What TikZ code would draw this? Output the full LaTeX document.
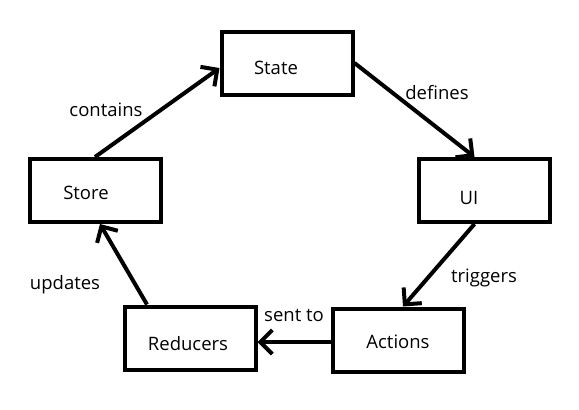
\documentclass[tikz,border=0pt]{standalone}
\usepackage{fontspec}
\setmainfont{Open Sans}
\usetikzlibrary{arrows.meta}

\tikzset{
  box/.style={draw, line width=4pt, minimum width=131pt, minimum height=63pt, inner sep=0pt},
  txt/.style={inner sep=0pt, font=\fontsize{18.5}{22}\selectfont},
  flow/.style={line width=4pt, -{Straight Barb[length=12pt, width=24pt, line width=4pt]}}
}

\begin{document}
\begin{tikzpicture}[x=1pt, y=-1pt]
\useasboundingbox (0,0) rectangle (579,410);
% Cajas
\node[box] (state) at (287,63) {};
\node[box] (ui) at (484.5,190.5) {};
\node[box] (actions) at (398,340) {};
\node[box] (reducers) at (190,338) {};
\node[box] (store) at (95,190.5) {};
% Texto dentro de las cajas
\node[txt] (statetxt) at (276,68) {State};
\node[txt] (uitxt) at (469,198) {UI};
\node[txt] (actionstxt) at (398,342) {Actions};
\node[txt] (reducerstxt) at (188,344) {Reducers};
\node[txt] (storetxt) at (86,193) {Store};
% Flechas del ciclo
\draw[flow] (store.north) -- ([yshift=-5pt]state.west);
\draw[flow] (state.east) -- ([xshift=-10pt]ui.north);
\draw[flow] ([xshift=-10pt]ui.south) -- ([xshift=5pt]actions.north);
\draw[flow] ([yshift=-2pt]actions.west) -- ([yshift=-2pt]actions.west -| reducers.east);
\draw[flow] ([xshift=-43pt]reducers.north) -- ([xshift=5pt]store.south);
% Etiquetas
\node[txt] (contains) at (106,110) {contains};
\node[txt] (defines) at (437,93) {defines};
\node[txt] (triggers) at (484,278) {triggers};
\node[txt] (sentto) at (294,315) {sent to};
\node[txt] (updates) at (65,285) {updates};
\end{tikzpicture}
\end{document}
